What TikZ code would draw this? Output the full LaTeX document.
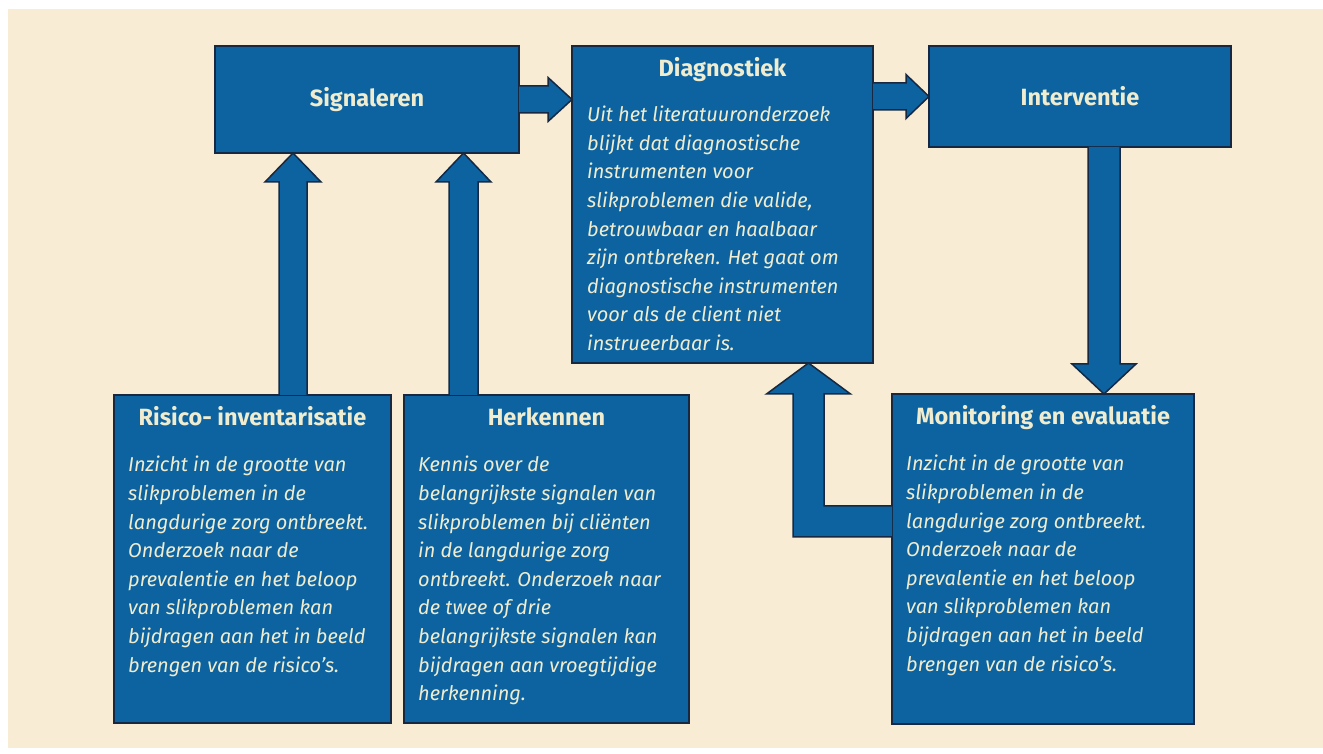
\documentclass[tikz,border=0pt]{standalone}
\usepackage{fontspec}
\usepackage{xcolor}
\usetikzlibrary{positioning, calc}
\newfontfamily\firasans{Fira Sans}
\definecolor{bgcream}{RGB}{248, 237, 212}
\definecolor{boxblue}{RGB}{12, 99, 160}
\definecolor{navy}{RGB}{22, 40, 66}
\definecolor{textcream}{RGB}{240, 236, 208}

\begin{document}
\begin{tikzpicture}[
    x=1pt, y=1pt, % work in pixel-like units
    box/.style={ % Blue block, size given per node
        rectangle,
        draw=navy,
        line width=1.5pt,
        fill=boxblue,
        inner sep=0pt,
        outer sep=0pt,
        text=textcream,
        font=\firasans\bfseries\fontsize{23.5}{27}\selectfont
    },
    % Bold heading inside the tall blocks
    heading/.style={
        font=\firasans\bfseries\fontsize{23.5}{27}\selectfont,
        text=textcream,
        inner sep=0pt,
        anchor=base
    },
    % Italic body text
    bodytext/.style={
        font=\firasans\itshape\fontsize{20}{28.6}\selectfont,
        text=textcream,
        align=left,
        inner sep=0pt,
        anchor=north west
    },
    % Fat block arrow
    fat/.style={
        fill=boxblue,
        draw=navy,
        line width=1.5pt,
        line join=miter
    }
]

% Page and background
\useasboundingbox (0,0) rectangle (1323,753);
\fill[white] (0,0) rectangle (1323,753);
\fill[bgcream] (8,5) rectangle (1323,744);

% Top row
\node[box, minimum width=304pt, minimum height=107pt, anchor=north west] (sig) at (215,707) {Signaleren};
\node[box, minimum width=301pt, minimum height=317pt, right=53pt of sig.north east, anchor=north west] (diag) {};
\node[box, minimum width=302pt, minimum height=101pt, right=56pt of diag.north east, anchor=north west] (interv) {Interventie};

% Bottom row
\node[box, minimum width=277pt, minimum height=328pt, anchor=north west] (risico) at (114,358) {};
\node[box, minimum width=285pt, minimum height=328pt, right=13pt of risico.north east, anchor=north west] (herk) {};
\node[box, minimum width=302pt, minimum height=330pt, anchor=north west] (monit) at (892,359) {};

% Headings
\node[heading] (diagtitle) at ($(diag.north)+(0,-31)$) {Diagnostiek};
\node[heading] (risicotitle) at ($(risico.north)+(0,-31)$) {Risico- inventarisatie};
\node[heading] (herktitle) at ($(herk.north)+(0,-31)$) {Herkennen};
\node[heading] (monittitle) at ($(monit.north)+(0,-31)$) {Monitoring en evaluatie};

% Body texts
\node[bodytext] (diagbody) at ($(diag.north west)+(15,-60)$) {Uit het literatuuronderzoek\\
blijkt dat diagnostische\\
instrumenten voor\\
slikproblemen die valide,\\
betrouwbaar en haalbaar\\
zijn ontbreken. Het gaat om\\
diagnostische instrumenten\\
voor als de client niet\\
instrueerbaar is.};
\node[bodytext] (risicobody) at ($(risico.north west)+(14,-61)$) {Inzicht in de grootte van\\
slikproblemen in de\\
langdurige zorg ontbreekt.\\
Onderzoek naar de\\
prevalentie en het beloop\\
van slikproblemen kan\\
bijdragen aan het in beeld\\
brengen van de risico’s.};
\node[bodytext] (herkbody) at ($(herk.north west)+(14,-61)$) {Kennis over de\\
belangrijkste signalen van\\
slikproblemen bij cliënten\\
in de langdurige zorg\\
ontbreekt. Onderzoek naar\\
de twee of drie\\
belangrijkste signalen kan\\
bijdragen aan vroegtijdige\\
herkenning.};
\node[bodytext] (monitbody) at ($(monit.north west)+(14,-61)$) {Inzicht in de grootte van\\
slikproblemen in de\\
langdurige zorg ontbreekt.\\
Onderzoek naar de\\
prevalentie en het beloop\\
van slikproblemen kan\\
bijdragen aan het in beeld\\
brengen van de risico’s.};

% Arrow tips and bases
\coordinate (tipA) at (sig.east -| diag.west);
\coordinate (tipB) at (interv.west);
\coordinate (baseC) at ($(risico.north west)+(179,0)$);
\coordinate (tipC) at (baseC |- sig.south);
\coordinate (baseD) at ($(herk.north west)+(59.5,0)$);
\coordinate (tipD) at (baseD |- sig.south);
\coordinate (baseE) at ($(interv.south west)+(175,0)$);
\coordinate (tipE) at (baseE |- monit.north);
\coordinate (baseF) at ($(monit.north west)+(0,-127.5)$);
\coordinate (tipF) at ($(diag.south west)+(236.5,0)$);
\coordinate (bendF) at (tipF |- baseF);

% Signaleren -> Diagnostiek
\filldraw[fat] ($(sig.east)+(0,13.5)$) -- ($(tipA)+(-24,13.5)$) -- ($(tipA)+(-24,22)$) -- (tipA)
    -- ($(tipA)+(-24,-22)$) -- ($(tipA)+(-24,-13.5)$) -- ($(sig.east)+(0,-13.5)$);
% Diagnostiek -> Interventie
\filldraw[fat] ($(tipB -| diag.east)+(0,13.5)$) -- ($(tipB)+(-23,13.5)$) -- ($(tipB)+(-23,22)$) -- (tipB)
    -- ($(tipB)+(-23,-22)$) -- ($(tipB)+(-23,-13.5)$) -- ($(tipB -| diag.east)+(0,-13.5)$);
% Risico-inventarisatie -> Signaleren
\filldraw[fat] ($(baseC)+(-14,0)$) -- ($(tipC)+(-14,-29)$) -- ($(tipC)+(-28,-29)$) -- (tipC)
    -- ($(tipC)+(28,-29)$) -- ($(tipC)+(14,-29)$) -- ($(baseC)+(14,0)$);
% Herkennen -> Signaleren
\filldraw[fat] ($(baseD)+(-14.5,0)$) -- ($(tipD)+(-14.5,-29)$) -- ($(tipD)+(-27.5,-29)$) -- (tipD)
    -- ($(tipD)+(27.5,-29)$) -- ($(tipD)+(14.5,-29)$) -- ($(baseD)+(14.5,0)$);
% Interventie -> Monitoring
\filldraw[fat] ($(baseE)+(-16,0)$) -- ($(tipE)+(-16,30)$) -- ($(tipE)+(-32,30)$) -- (tipE)
    -- ($(tipE)+(32,30)$) -- ($(tipE)+(16,30)$) -- ($(baseE)+(16,0)$);
% Monitoring -> Diagnostiek (elbow)
\filldraw[fat] ($(baseF)+(0,15.5)$) -- ($(bendF)+(15.5,15.5)$) -- ($(tipF)+(15.5,-31)$) -- ($(tipF)+(42,-31)$) -- (tipF)
    -- ($(tipF)+(-42,-31)$) -- ($(tipF)+(-15.5,-31)$) -- ($(bendF)+(-15.5,-15.5)$) -- ($(baseF)+(0,-15.5)$);

\end{tikzpicture}
\end{document}
